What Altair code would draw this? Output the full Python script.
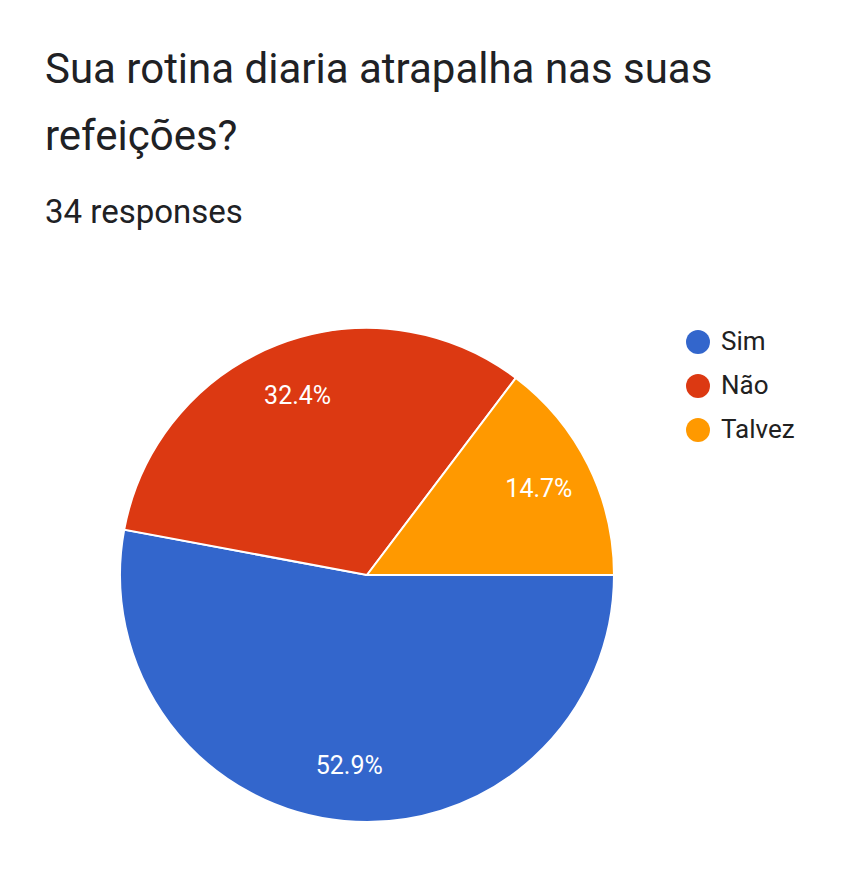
import math
import altair as alt
import pandas as pd

categories = ["Sim", "Não", "Talvez"]
counts = [18, 11, 5]
labels = ["52.9%", "32.4%", "14.7%"]
colors = ["#3366CC", "#DC3912", "#FF9900"]
order = [0, 1, 2]

df = pd.DataFrame({"cat": categories, "count": counts, "label": labels, "order": order})

LEFT = 45
TOP = 260
CX = 367 - LEFT
CY = 575 - TOP

base = alt.Chart(df).encode(
    theta=alt.Theta("count:Q", stack=True,
                    scale=alt.Scale(range=[math.pi / 2, math.pi / 2 + 2 * math.pi])),
    order=alt.Order("order:Q"),
)

pie = base.mark_arc(outerRadius=247, stroke="white", strokeWidth=2).encode(
    color=alt.Color(
        "cat:N",
        scale=alt.Scale(domain=categories, range=colors),
        sort=categories,
        legend=alt.Legend(
            orient="none", legendX=697 - LEFT - 12, legendY=342 - TOP - 13,
            title=None, symbolType="circle", symbolSize=573, symbolStrokeWidth=0,
            labelFontSize=26, labelFont="Roboto", labelColor="#212121",
            rowPadding=18, labelOffset=10,
        ),
    ),
    x=alt.value(CX), y=alt.value(CY),
)

text = base.mark_text(radius=192, fontSize=25, color="white", font="Roboto").encode(
    text="label:N", x=alt.value(CX), y=alt.value(CY)
)

chart = alt.layer(pie, text).properties(
    width=846 - LEFT, height=896 - TOP,
    autosize=alt.AutoSizeParams(type="none"),
    padding={"left": LEFT, "top": TOP, "right": 0, "bottom": 0},
    title=alt.TitleParams(
        text=["Sua rotina diaria atrapalha nas suas", "refeições?"],
        subtitle="34 responses",
        anchor="start", frame="group",
        font="Roboto", fontSize=42, fontWeight="normal", color="#202124",
        lineHeight=67,
        subtitleFont="Roboto", subtitleFontSize=33, subtitleColor="#202124",
        subtitlePadding=38, offset=29,
    ),
).configure_view(stroke=None)

chart.save("out.html", embed_options={"renderer": "svg", "actions": False})
